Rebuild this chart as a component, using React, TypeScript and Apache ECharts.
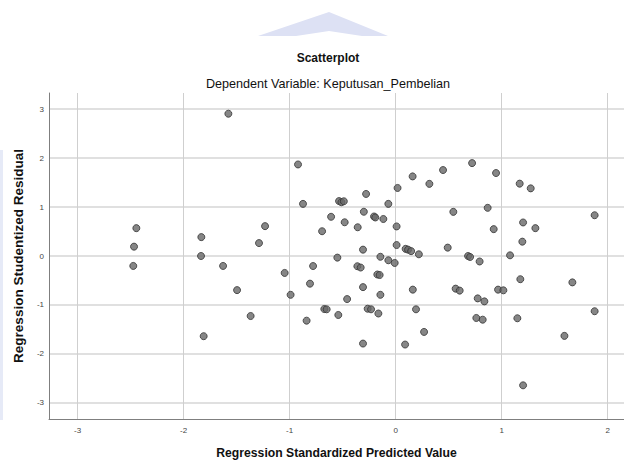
import React, { useEffect, useRef } from "react";
import * as echarts from "echarts";

const titleText = "Scatterplot";
const subtitleText = "Dependent Variable: Keputusan_Pembelian";
const xAxisName = "Regression Standardized Predicted Value";
const yAxisName = "Regression Studentized Residual";

const xRange = [-3.27, 2.154];
const yRange = [-3.33, 3.33];

const predicted = [
  -2.446, -2.468, -2.475, -1.833, -1.836, -1.628, -1.578, -1.496, -1.368, -1.811,
  -1.289, -1.232, -1.047, -0.991, -0.921, -0.874, -0.84, -0.808, -0.779, -0.694,
  -0.673, -0.651, -0.609, -0.55, -0.541, -0.534, -0.512, -0.489, -0.481, -0.458,
  -0.358, -0.361, -0.33, -0.308, -0.308, -0.308, -0.3, -0.279, -0.264, -0.232,
  -0.204, -0.192, -0.173, -0.151, -0.163, -0.144, -0.144, -0.116, -0.069, -0.069,
  -0.009, 0.009, 0.009, 0.018, 0.094, 0.117, 0.146, 0.089, 0.16, 0.162,
  0.192, 0.219, 0.268, 0.318, 0.447, 0.491, 0.544, 0.566, 0.604, 0.683,
  0.702, 0.721, 0.761, 0.774, 0.792, 0.821, 0.837, 0.868, 0.925, 0.947,
  0.966, 1.016, 1.079, 1.148, 1.17, 1.176, 1.195, 1.202, 1.202, 1.274,
  1.318, 1.592, 1.667, 1.877, 1.877,
];

const residual = [
  0.569, 0.191, -0.203, 0.386, 0.0, -0.203, 2.907, -0.697, -1.226, -1.638,
  0.264, 0.61, -0.346, -0.793, 1.87, 1.065, -1.321, -0.565, -0.205, 0.506,
  -1.083, -1.089, 0.801, -0.033, -1.205, 1.122, 1.098, 1.118, 0.689, -0.88,
  0.587, -0.209, -0.236, 0.13, -0.636, -1.789, 0.904, 1.268, -1.077, -1.089,
  0.807, 0.787, -0.378, -0.388, -1.175, -0.016, -0.793, 0.756, 1.065, -0.087,
  -0.142, 0.604, 0.224, 1.39, 0.146, 0.13, 0.1, -1.809, 1.626, -0.687,
  -1.089, 0.035, -1.551, 1.474, 1.756, 0.171, 0.902, -0.667, -0.707, 0.0,
  -0.02, 1.898, -1.266, -0.866, -0.112, -1.301, -0.927, 0.984, 0.549, 1.695,
  -0.687, -0.701, 0.014, -1.272, 1.478, -0.474, 0.293, 0.685, -2.642, 1.382,
  0.569, -1.632, -0.539, 0.833, -1.128,
];

const FONT = "'Liberation Sans', Arial, sans-serif";

export default function App() {
  const ref = useRef<HTMLDivElement>(null);

  useEffect(() => {
    if (!ref.current) return;
    const chart = echarts.init(ref.current, null, { renderer: "svg" });
    const points = predicted.map((x, i) => [x, residual[i]]);
    const intLabel = (v: number) =>
      Math.abs(v - Math.round(v)) < 1e-6 ? String(Math.round(v)) : "";

    chart.setOption({
      animation: false,
      backgroundColor: "#ffffff",
      textStyle: { fontFamily: FONT },
      title: [
        {
          text: titleText,
          left: 323,
          top: 47,
          textAlign: "center",
          textStyle: { fontFamily: FONT, fontSize: 12, fontWeight: "bold", color: "#111" },
        },
        {
          text: subtitleText,
          left: 323,
          top: 72,
          textAlign: "center",
          textStyle: { fontFamily: FONT, fontSize: 12.6, fontWeight: "normal", color: "#111" },
        },
      ],
      graphic: [
        {
          type: "polygon",
          silent: true,
          z: -10,
          shape: {
            points: [
              [258, 36],
              [329, 12],
              [388, 36],
              [362, 36],
              [329, 31],
              [296, 36],
            ],
          },
          style: { fill: "#dde1f4" },
        },
        {
          type: "rect",
          silent: true,
          z: -10,
          shape: { x: 0, y: 150, width: 3, height: 270 },
          style: { fill: "#e6eaf7" },
        },
      ],
      grid: { left: 49, right: 0, top: 93, bottom: 43 },
      xAxis: {
        type: "value",
        min: xRange[0],
        max: xRange[1],
        splitNumber: 5,
        name: xAxisName,
        nameLocation: "middle",
        nameGap: 28,
        nameTextStyle: { fontFamily: FONT, fontSize: 12.2, fontWeight: "bold", color: "#111" },
        axisLine: { show: true, onZero: false, lineStyle: { color: "#7f7f7f", width: 1 } },
        axisTick: { show: false },
        axisLabel: {
          showMinLabel: false,
          showMaxLabel: false,
          formatter: intLabel,
          fontSize: 8,
          color: "#444",
          margin: 7,
          fontFamily: FONT,
        },
        splitLine: {
          show: true,
          showMinLine: false,
          showMaxLine: false,
          lineStyle: { color: "#cfcfcf", width: 1 },
        },
      },
      yAxis: {
        type: "value",
        min: yRange[0],
        max: yRange[1],
        splitNumber: 6,
        name: yAxisName,
        nameLocation: "middle",
        nameGap: 22,
        nameTextStyle: { fontFamily: FONT, fontSize: 13.5, fontWeight: "bold", color: "#111" },
        axisLine: { show: true, onZero: false, lineStyle: { color: "#7f7f7f", width: 1 } },
        axisTick: { show: false },
        axisLabel: {
          showMinLabel: false,
          showMaxLabel: false,
          formatter: intLabel,
          fontSize: 8,
          color: "#444",
          margin: 5,
          fontFamily: FONT,
        },
        splitLine: {
          show: true,
          showMinLine: false,
          showMaxLine: false,
          lineStyle: { color: "#d6d6d6", width: 1.5 },
        },
      },
      series: [
        {
          type: "scatter",
          data: points,
          symbol: "circle",
          symbolSize: 7,
          itemStyle: { color: "#686868", borderColor: "#333333", borderWidth: 1 },
        },
      ],
    });

    return () => chart.dispose();
  }, []);

  return (
    <div
      ref={ref}
      style={{ position: "fixed", left: 0, top: 0, width: 624, height: 464 }}
    />
  );
}
